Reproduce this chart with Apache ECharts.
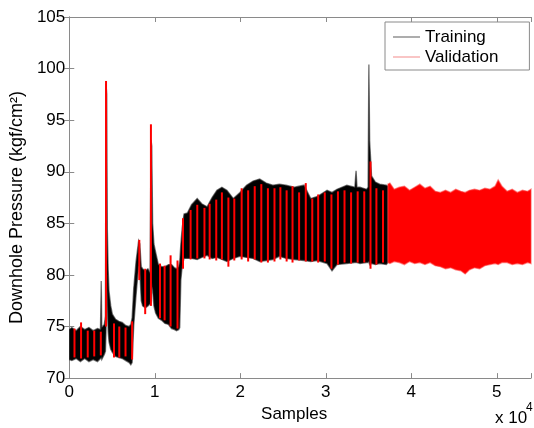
<!DOCTYPE html>
<html>
<head>
<meta charset="utf-8">
<script src="https://cdn.jsdelivr.net/npm/echarts@6/dist/echarts.min.js"></script>
<style>html,body{margin:0;padding:0;background:#fff}#c{width:534px;height:428px}</style>
</head>
<body>
<div id="c"></div>
<script>
// ---- Data ----
// Training band envelope: sample index, upper and lower values (kgf/cm²)
const trainX = [0,300,800,1300,1800,2300,2800,3300,3650,3740,3800,4100,4230,4300,4380,4450,4550,4650,4850,5040,5420,5800,6190,6600,7000,7200,7350,7540,7810,8110,8250,8420,8580,8900,9200,9450,9560,9650,9750,9900,10100,10420,10800,11190,11600,11970,12300,12540,12800,12920,13050,13200,13420,13810,14300,14960,15500,16120,16700,17270,17850,18430,19190,19960,20730,21500,22270,23040,23810,24580,25350,26310,27460,28240,29000,30150,30730,31310,32460,33400,33540,33650,34000,34770,34950,35040,35130,35350,35800,36310,37080,37270];
const trainHigh = [74.7,74.9,74.6,75.0,74.7,74.9,74.6,74.8,74.7,79.4,74.9,75.2,76.0,98.5,97.5,84.5,80.5,78.4,77.0,76.2,75.7,75.5,75.4,75.1,75.0,75.2,75.8,78.7,81.3,83.3,83.0,80.8,80.6,80.4,80.6,80.2,93.1,92.5,85.0,83.0,82.2,81.0,80.8,80.8,81.0,81.0,80.7,80.6,80.8,81.3,83.0,84.5,85.9,86.0,86.8,87.4,86.9,86.6,87.5,88.2,88.5,88.2,87.4,88.0,88.7,89.1,89.3,88.9,88.7,88.8,88.7,88.5,88.7,87.4,87.6,88.2,88.0,88.3,88.7,88.5,90.1,88.5,88.5,88.3,88.5,100.4,93.0,89.6,89.0,88.8,88.7,88.6];
const trainLow = [71.8,71.7,71.9,71.6,71.9,71.6,71.8,71.6,71.9,72.0,71.8,72.3,72.6,74.5,80.0,77.0,74.5,73.5,72.8,72.5,72.1,72.0,71.9,71.7,71.5,71.3,71.5,75.1,78.0,80.9,80.5,77.5,77.0,76.8,77.0,77.2,77.5,79.0,78.5,77.0,76.3,75.8,75.6,75.3,75.2,74.8,74.7,74.6,74.7,74.9,79.5,80.8,81.6,81.6,81.6,81.5,81.7,81.9,81.6,81.7,81.5,81.3,81.6,81.8,81.7,81.6,81.3,81.4,81.5,81.8,81.6,81.5,81.4,81.3,81.4,81.1,80.4,81.0,81.1,81.2,81.2,81.2,81.1,81.2,81.2,81.3,81.0,81.1,81.0,81.1,81.0,81.2];

// Validation samples interleaved with training (red stripes): position, low, high
const stripeX = [610,1380,2160,2920,3690,4300,5230,5850,6580,7350,8190,8880,9550,10610,11150,11850,12660,13300,14190,14970,15810,16420,17190,17850,18610,19300,20160,20920,21690,22460,23230,24000,24690,25420,26110,26880,27660,28420,29110,29880,30660,31420,32190,32960,33730,34500,35230,35920,36690];
const stripeLow = [72.0,71.9,72.0,72.1,72.2,75.0,72.0,72.0,72.1,71.8,79.5,76.2,77.0,75.8,75.6,75.0,74.8,80.6,81.5,81.6,81.6,81.5,81.4,81.5,80.8,81.4,81.5,81.3,81.5,81.2,81.2,81.3,81.5,81.3,81.2,81.4,81.3,81.3,81.2,81.3,80.6,81.0,81.2,81.1,81.2,81.2,80.6,81.0,81.2];
const stripeHigh = [74.8,75.4,74.6,74.6,74.5,98.8,75.3,75.0,74.9,75.5,83.4,80.6,94.6,81.1,80.9,81.9,81.4,85.5,86.3,86.8,86.5,86.9,87.3,88.0,87.5,87.4,88.4,88.2,88.6,88.8,88.4,88.4,88.5,88.2,88.6,88.0,88.9,87.4,87.8,88.0,87.8,88.1,88.2,88.0,88.1,88.1,91.0,88.4,88.2];

// Validation band envelope (after training ends)
const validX = [37270,37500,38000,38600,39200,39800,40400,41000,41600,42200,42800,43400,44000,44600,45200,45800,46300,46800,47400,48000,48600,49200,49800,50160,50600,51200,51800,52400,53000,53600,54000];
const validHigh = [88.8,88.9,88.3,88.5,88.6,88.2,88.5,88.8,88.4,88.6,88.1,88.0,88.2,88.0,88.3,88.1,88.0,88.2,88.3,88.2,88.4,88.3,88.6,89.2,88.6,88.1,88.3,88.0,88.2,88.1,88.3];
const validLow = [81.2,81.1,81.3,81.2,81.0,81.3,81.1,81.2,81.0,81.2,80.9,80.8,80.6,80.7,80.5,80.4,80.1,80.5,80.7,80.6,80.9,81.0,81.1,81.0,81.2,81.2,81.0,81.1,81.0,81.2,81.1];

// Axis ticks
const xTickValues = [0,10000,20000,30000,40000,50000];
const xTickLabels = ['0','1','2','3','4','5'];
const yMin = 70, yMax = 105, yStep = 5;

// ---- Chart ----
const FONT = "'Liberation Sans', Arial, sans-serif";
const AXIS_COLOR = '#8a8a8a';
const chart = echarts.init(document.getElementById('c'), null, {renderer: 'canvas'});

function bandRenderer(xs, hi, lo, fill, stroke) {
  return function (params, api) {
    if (params.dataIndex !== 0) return;
    const pts = [];
    for (let i = 0; i < xs.length; i++) pts.push(api.coord([xs[i], hi[i]]));
    for (let i = xs.length - 1; i >= 0; i--) pts.push(api.coord([xs[i], lo[i]]));
    return {type: 'polygon', shape: {points: pts}, style: {fill: fill, stroke: stroke, lineWidth: 1.4}};
  };
}

const commonX = {
  type: 'value', min: 0, max: 54000, interval: 10000,
  axisLine: {show: true, lineStyle: {color: AXIS_COLOR, width: 1}},
  axisTick: {show: true, inside: true, length: 5, lineStyle: {color: AXIS_COLOR}},
  splitLine: {show: false}
};
const commonY = {
  type: 'value', min: yMin, max: yMax, interval: yStep,
  axisLine: {show: true, lineStyle: {color: AXIS_COLOR, width: 1}},
  axisTick: {show: true, inside: true, length: 5, lineStyle: {color: AXIS_COLOR}},
  splitLine: {show: false}
};

const option = {
  animation: false,
  backgroundColor: '#ffffff',
  grid: {left: 67, top: 17, right: -1, bottom: 48, containLabel: false},
  xAxis: [
    Object.assign({}, commonX, {
      position: 'bottom',
      axisLabel: {
        color: '#000', fontFamily: FONT, fontSize: 17, margin: 6,
        formatter: function (v) { const i = xTickValues.indexOf(v); return i >= 0 ? xTickLabels[i] : ''; }
      },
      name: 'Samples', nameLocation: 'middle', nameGap: 23,
      nameTextStyle: {color: '#000', fontFamily: FONT, fontSize: 17, padding: [0, 12, 0, 0]}
    }),
    Object.assign({}, commonX, {position: 'top', axisLabel: {show: false}})
  ],
  yAxis: [
    Object.assign({}, commonY, {
      position: 'left',
      axisLabel: {color: '#000', fontFamily: FONT, fontSize: 17, margin: 4},
      name: 'Downhole Pressure (kgf/cm²)', nameLocation: 'middle', nameGap: 28,
      nameTextStyle: {color: '#000', fontFamily: FONT, fontSize: 18, padding: [0, 20, 0, 0]}
    }),
    Object.assign({}, commonY, {position: 'right', axisLabel: {show: false}})
  ],
  legend: {
    show: true, orient: 'vertical', left: 385, top: 22,
    backgroundColor: '#fff', borderColor: '#8a8a8a', borderWidth: 1, borderRadius: 0,
    padding: [5, 31, 3, 8], itemGap: 0, itemWidth: 27, itemHeight: 1,
    textStyle: {color: '#000', fontFamily: FONT, fontSize: 17, lineHeight: 20},
    data: [
      {name: 'Training', icon: 'rect', itemStyle: {color: '#5a5a5a'}},
      {name: 'Validation', icon: 'rect', itemStyle: {color: '#f28a8a'}}
    ]
  },
  graphic: [
    {type: 'text', left: 495, top: 410, style: {text: 'x 10', fill: '#000', font: '17px ' + FONT}},
    {type: 'text', left: 526, top: 402, style: {text: '4', fill: '#000', font: '12px ' + FONT}}
  ],
  series: [
    {
      name: 'Training', type: 'custom', xAxisIndex: 0, yAxisIndex: 0,
      itemStyle: {color: '#000'}, clip: true,
      data: [[0, 72]], encode: {x: 0, y: 1},
      renderItem: bandRenderer(trainX, trainHigh, trainLow, '#000', 'rgba(40,40,40,0.6)')
    },
    {
      name: 'Validation', type: 'custom', xAxisIndex: 0, yAxisIndex: 0,
      itemStyle: {color: '#ff0000'}, clip: true,
      data: stripeX.map((x, i) => [x, stripeLow[i], stripeHigh[i]]),
      encode: {x: 0, y: [1, 2]},
      renderItem: function (params, api) {
        const a = api.coord([api.value(0), api.value(1)]);
        const b = api.coord([api.value(0), api.value(2)]);
        return {type: 'line', shape: {x1: a[0], y1: a[1], x2: b[0], y2: b[1]}, style: {stroke: '#ff0000', lineWidth: 2}};
      }
    },
    {
      name: 'Validation', type: 'custom', xAxisIndex: 0, yAxisIndex: 0,
      itemStyle: {color: '#ff0000'}, clip: true,
      data: [[validX[0], 85]], encode: {x: 0, y: 1},
      renderItem: bandRenderer(validX, validHigh, validLow, '#ff0000', 'rgba(255,60,60,0.55)')
    }
  ]
};
chart.setOption(option);
</script>
</body>
</html>
